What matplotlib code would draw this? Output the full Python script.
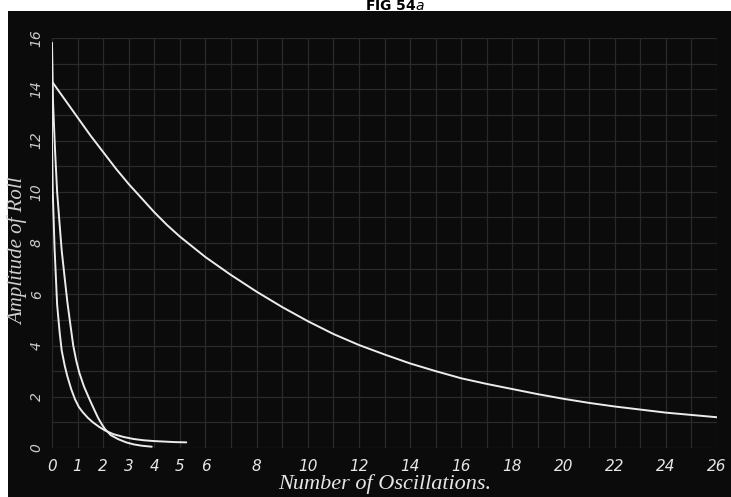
import matplotlib.pyplot as plt
from matplotlib.patches import Rectangle
from matplotlib.ticker import MultipleLocator, FixedLocator

# Slow decay curve (amplitude vs oscillations)
slow_x = [0, 0.5, 1, 1.5, 2, 2.5, 3, 3.5, 4, 4.5, 5, 5.5, 6, 7, 8, 9, 10, 11, 12, 13,
          14, 15, 16, 17, 18, 19, 20, 21, 22, 23, 24, 25, 26]
slow_y = [14.3, 13.6, 12.9, 12.2, 11.55, 10.9, 10.3, 9.75, 9.2, 8.7, 8.25, 7.85, 7.45,
          6.75, 6.1, 5.5, 4.95, 4.45, 4.02, 3.65, 3.3, 3.0, 2.72, 2.5, 2.3, 2.1, 1.92,
          1.76, 1.62, 1.5, 1.38, 1.29, 1.2]

# Fast decay curve, long tail
inner_x = [0, 0, 0.03, 0.1, 0.2, 0.3, 0.38, 0.5, 0.6, 0.75, 0.9, 1.05, 1.2, 1.4, 1.6,
           1.85, 2.08, 2.4, 2.8, 3.2, 3.6, 4.0, 4.4, 4.8, 5.25]
inner_y = [15.8, 12, 10, 7.8, 5.6, 4.5, 3.8, 3.2, 2.8, 2.3, 1.9, 1.6, 1.4, 1.18, 1.0,
           0.82, 0.68, 0.54, 0.43, 0.35, 0.3, 0.27, 0.25, 0.23, 0.22]

# Fast decay curve, short tail
outer_x = [0, 0.04, 0.12, 0.2, 0.3, 0.38, 0.5, 0.6, 0.72, 0.83, 0.95, 1.07, 1.25, 1.48,
           1.65, 1.8, 1.95, 2.07, 2.3, 2.6, 2.9, 3.2, 3.5, 3.9]
outer_y = [15.8, 13.5, 11.6, 10.0, 8.7, 7.7, 6.6, 5.7, 4.8, 4.0, 3.4, 2.93, 2.4, 1.87,
           1.5, 1.18, 0.92, 0.74, 0.5, 0.34, 0.22, 0.14, 0.09, 0.05]

x_labels = [0, 1, 2, 3, 4, 5, 6, 8, 10, 12, 14, 16, 18, 20, 22, 24, 26]
y_labels = [0, 2, 4, 6, 8, 10, 12, 14, 16]

fig = plt.figure(figsize=(7.31, 4.97), dpi=100, facecolor='white')
fig.patches.append(Rectangle((8 / 731, 0), 1, 1 - 11 / 497, transform=fig.transFigure,
                             facecolor='#0b0b0b', edgecolor='none', zorder=-5))

ax = fig.add_axes([52 / 731, 1 - 448 / 497, (717 - 52) / 731, (448 - 38) / 497])
ax.set_zorder(2)
ax.set_facecolor('#0b0b0b')
ax.set_xlim(0, 26)
ax.set_ylim(0, 16)

ax.xaxis.set_major_locator(FixedLocator(x_labels))
ax.xaxis.set_minor_locator(MultipleLocator(1))
ax.yaxis.set_major_locator(FixedLocator(y_labels))
ax.yaxis.set_minor_locator(MultipleLocator(1))
ax.grid(which='both', color='#2a2a2a', linewidth=0.9)
ax.set_axisbelow(True)
for s in ax.spines.values():
    s.set_visible(False)

ax.tick_params(which='both', length=0, colors='white')
ax.tick_params(axis='x', pad=8)
ax.tick_params(axis='y', pad=6)
ax.set_xticklabels([str(v) for v in x_labels], fontsize=11, style='italic', color='#e6e6e6')
ax.set_yticklabels([str(v) for v in y_labels], fontsize=10, style='italic', color='#cccccc',
                   rotation=90, va='center')

line_kw = dict(color='#ececec', linewidth=1.4, solid_capstyle='round', solid_joinstyle='round')
ax.plot(slow_x, slow_y, **line_kw)
ax.plot(inner_x, inner_y, **line_kw)
ax.plot(outer_x, outer_y, **line_kw)

ax.set_xlabel('Number of Oscillations.', family='Liberation Serif', style='italic',
              fontsize=16, color='#e6e6e6', labelpad=0)
ax.set_ylabel('Amplitude of Roll', family='Liberation Serif', style='italic',
              fontsize=15, color='#d0d0d0')
ax.yaxis.set_label_coords(-0.036, 0.48)

fig.text(395 / 731, 1 - 6 / 497, 'FIG 54$\\mathit{a}$', ha='center', va='center',
         fontsize=10, fontweight='bold', color='black')

fig.savefig('out.png', dpi=100, facecolor=fig.get_facecolor())
